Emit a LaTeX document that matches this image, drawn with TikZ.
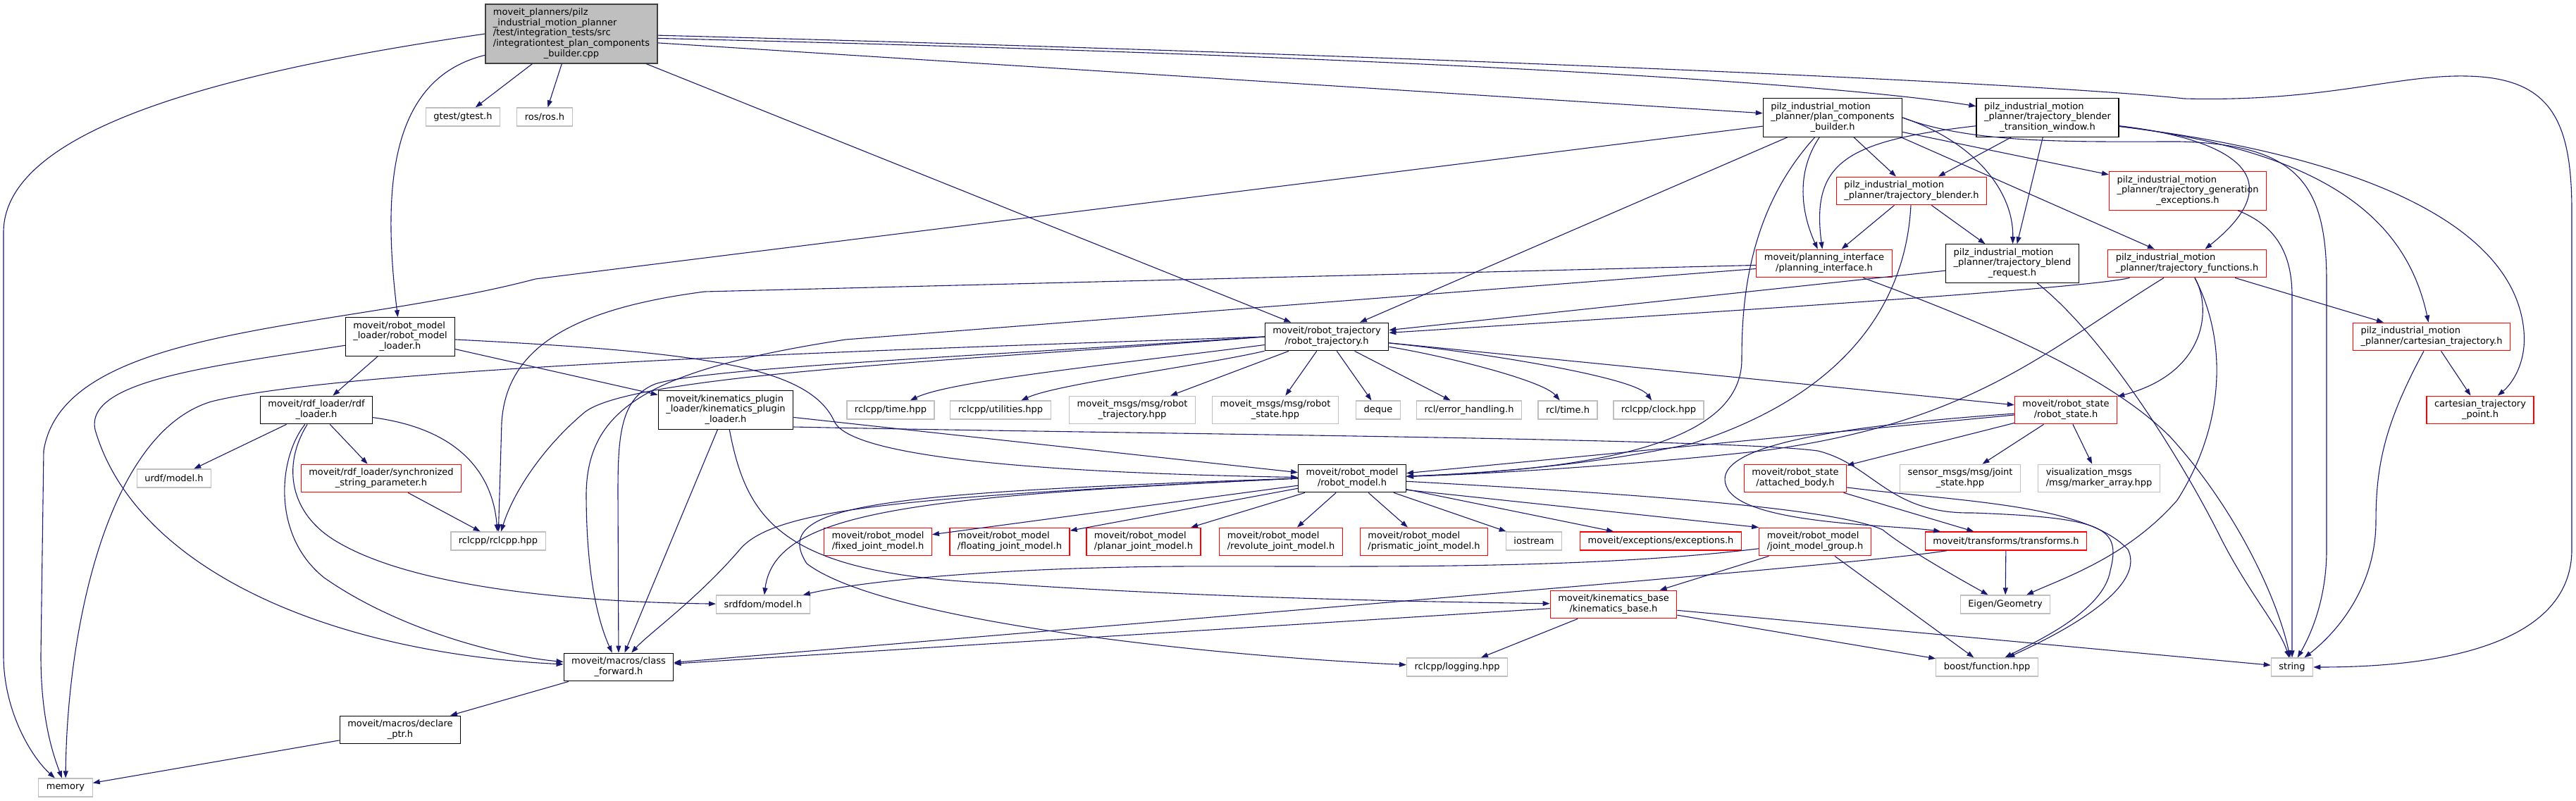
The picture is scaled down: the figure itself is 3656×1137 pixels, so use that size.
\documentclass[tikz,border=0pt]{standalone}
\usepackage{fontspec}
\setmainfont{DejaVu Sans}
\usetikzlibrary{arrows.meta}
\definecolor{edgeblue}{HTML}{191970}
\definecolor{extgray}{HTML}{BFBFBF}
\definecolor{rootline}{HTML}{404040}
\newcommand{\flab}[2]{\begin{tabular}{@{}l@{}}#1\\\multicolumn{1}{@{}c@{}}{#2}\end{tabular}}
\begin{document}
\begin{tikzpicture}[x=1pt,y=-1pt,
  box/.style={draw,fill=white,line width=1.2pt,inner xsep=11pt,inner ysep=5pt,minimum height=26pt,font=\fontsize{13}{14.8}\selectfont},
  hdr/.style={box,draw=black},
  trunc/.style={box,draw=red},
  ext/.style={box,draw=extgray},
  root/.style={box,draw=rootline,fill=extgray},
  inc/.style={draw=edgeblue,line width=1.1pt,-{Triangle[length=10pt,width=7pt]}}]
  \useasboundingbox (0,0) rectangle (3656,1137);
  \node[root] (main) at (811,48) {\flab{moveit\_planners/pilz\\\_industrial\_motion\_planner\\/test/integration\_tests/src\\/integrationtest\_plan\_components}{\_builder.cpp}};
  \node[ext] (gtest) at (657,166) {gtest/gtest.h};
  \node[ext] (ros) at (773,166) {ros/ros.h};
  \node[hdr] (pcb) at (2601,167) {\flab{pilz\_industrial\_motion\\\_planner/plan\_components}{\_builder.h}};
  \node[hdr] (tbtw) at (2906,167) {\flab{pilz\_industrial\_motion\\\_planner/trajectory\_blender}{\_transition\_window.h}};
  \node[trunc] (tblend) at (2713,271) {\flab{pilz\_industrial\_motion}{\_planner/trajectory\_blender.h}};
  \node[trunc] (tgex) at (3105,271) {\flab{pilz\_industrial\_motion\\\_planner/trajectory\_generation}{\_exceptions.h}};
  \node[trunc] (piface) at (2589,374) {\flab{moveit/planning\_interface}{/planning\_interface.h}};
  \node[hdr] (breq) at (2856,374) {\flab{pilz\_industrial\_motion\\\_planner/trajectory\_blend}{\_request.h}};
  \node[trunc] (tfunc) at (3104,374) {\flab{pilz\_industrial\_motion}{\_planner/trajectory\_functions.h}};
  \node[hdr] (rml) at (568,478) {\flab{moveit/robot\_model\\\_loader/robot\_model}{\_loader.h}};
  \node[hdr] (rtraj) at (1883,478) {\flab{moveit/robot\_trajectory}{/robot\_trajectory.h}};
  \node[trunc] (cart) at (3451,478) {\flab{pilz\_industrial\_motion}{\_planner/cartesian\_trajectory.h}};
  \node[hdr] (rdfl) at (449,582) {\flab{moveit/rdf\_loader/rdf}{\_loader.h}};
  \node[hdr] (kpl) at (1030,582) {\flab{moveit/kinematics\_plugin\\\_loader/kinematics\_plugin}{\_loader.h}};
  \node[ext] (rtime) at (1264,582) {rclcpp/time.hpp};
  \node[ext] (rutil) at (1420,582) {rclcpp/utilities.hpp};
  \node[ext] (mrtraj) at (1607,582) {\flab{moveit\_msgs/msg/robot}{\_trajectory.hpp}};
  \node[ext] (mrstate) at (1810,582) {\flab{moveit\_msgs/msg/robot}{\_state.hpp}};
  \node[ext] (deque) at (1956,582) {deque};
  \node[ext] (rclerr) at (2085,582) {rcl/error\_handling.h};
  \node[ext] (rcltime) at (2225,582) {rcl/time.h};
  \node[ext] (rclock) at (2354,582) {rclcpp/clock.hpp};
  \node[trunc] (rstate) at (2932,582) {\flab{moveit/robot\_state}{/robot\_state.h}};
  \node[trunc] (cartpt) at (3520,582) {\flab{cartesian\_trajectory}{\_point.h}};
  \node[ext] (urdf) at (247,679) {urdf/model.h};
  \node[trunc] (ssp) at (541,679) {\flab{moveit/rdf\_loader/synchronized}{\_string\_parameter.h}};
  \node[hdr] (rmodel) at (1919,679) {\flab{moveit/robot\_model}{/robot\_model.h}};
  \node[trunc] (abody) at (2548,679) {\flab{moveit/robot\_state}{/attached\_body.h}};
  \node[ext] (jstate) at (2782,679) {\flab{sensor\_msgs/msg/joint}{\_state.hpp}};
  \node[ext] (marker) at (2979,679) {\flab{visualization\_msgs}{/msg/marker\_array.hpp}};
  \node[ext] (rclcpp) at (707,768) {rclcpp/rclcpp.hpp};
  \node[trunc] (fixed) at (1246,769) {\flab{moveit/robot\_model}{/fixed\_joint\_model.h}};
  \node[trunc] (floating) at (1433,769) {\flab{moveit/robot\_model}{/floating\_joint\_model.h}};
  \node[trunc] (planar) at (1623,769) {\flab{moveit/robot\_model}{/planar\_joint\_model.h}};
  \node[trunc] (revolute) at (1818,769) {\flab{moveit/robot\_model}{/revolute\_joint\_model.h}};
  \node[trunc] (prismatic) at (2021,769) {\flab{moveit/robot\_model}{/prismatic\_joint\_model.h}};
  \node[ext] (iostream) at (2177,768) {iostream};
  \node[trunc] (exc) at (2357,768) {moveit/exceptions/exceptions.h};
  \node[trunc] (jmg) at (2576,769) {\flab{moveit/robot\_model}{/joint\_model\_group.h}};
  \node[trunc] (transf) at (2847,768) {moveit/transforms/transforms.h};
  \node[ext] (srdf) at (1083,858) {srdfdom/model.h};
  \node[trunc] (kbase) at (2290,858) {\flab{moveit/kinematics\_base}{/kinematics\_base.h}};
  \node[ext] (eigen) at (2846,858) {Eigen/Geometry};
  \node[hdr] (cfwd) at (878,947) {\flab{moveit/macros/class}{\_forward.h}};
  \node[ext] (logging) at (2068,947) {rclcpp/logging.hpp};
  \node[ext] (boostf) at (2820,947) {boost/function.hpp};
  \node[ext] (strg) at (3253,947) {string};
  \node[hdr] (dptr) at (568,1036) {\flab{moveit/macros/declare}{\_ptr.h}};
  \node[ext] (memory) at (93,1118) {memory};

  \draw[inc] (main.west) .. controls (330,100) and (5,180) .. (5,330) -- (5,930) .. controls (5,1010) and (45,1075) .. (memory);
  \draw[inc] (main) -- (gtest);
  \draw[inc] (main) -- (ros);
  \draw[inc] (main) .. controls (560,110) and (540,250) .. (rml);
  \draw[inc] (main.-6) -- (pcb);
  \draw[inc] (main.-3) .. controls (2000,80) and (2600,118) .. (tbtw);
  \draw[inc] (main.-1) .. controls (2000,78) and (2900,118) .. (3100,140) .. controls (3300,145) and (3400,106) .. (3500,108) .. controls (3620,110) and (3650,170) .. (3650,300) -- (3650,780) .. controls (3650,900) and (3500,947) .. (strg);
  \draw[inc] (main) -- (rtraj);

  \draw[inc] (pcb) -- (760,396) .. controls (480,470) and (90,460) .. (62,640) -- (58,930) .. controls (58,1020) and (75,1070) .. (memory);
  \draw[inc] (pcb) -- (rtraj);
  \draw[inc] (pcb) .. controls (2480,300) and (2472,430) .. (2472,510) .. controls (2472,620) and (2300,665) .. (rmodel);
  \draw[inc] (pcb) .. controls (2545,250) and (2560,310) .. (piface);
  \draw[inc] (pcb) -- (tblend);
  \draw[inc] (pcb.east) .. controls (2800,200) and (2858,270) .. (breq);
  \draw[inc] (pcb) -- (tgex);
  \draw[inc] (pcb.-16) -- (tfunc);
  \draw[inc] (pcb.east) .. controls (2800,205) and (2950,201) .. (3093,201) .. controls (3260,205) and (3302,260) .. (3302,400) -- (3302,780) .. controls (3302,850) and (3280,900) .. (strg);

  \draw[inc] (tbtw) .. controls (2620,200) and (2570,230) .. (piface);
  \draw[inc] (tbtw) -- (tblend);
  \draw[inc] (tbtw) -- (breq);
  \draw[inc] (tbtw) .. controls (3150,195) and (3265,245) .. (tfunc);
  \draw[inc] (tbtw) .. controls (3300,215) and (3415,310) .. (cart);
  \draw[inc] (tbtw) .. controls (3380,225) and (3570,330) .. (3582,470) .. controls (3586,515) and (3565,545) .. (cartpt);

  \draw[inc] (tblend) -- (piface);
  \draw[inc] (tblend) -- (breq);
  \draw[inc] (tblend) .. controls (2705,430) and (2620,560) .. (2400,630) .. controls (2250,662) and (2100,672) .. (rmodel);

  \draw[inc] (piface) -- (1000,414) .. controls (800,440) and (718,500) .. (712,600) -- (rclcpp);
  \draw[inc] (piface) -- (1200,482) .. controls (920,525) and (834,580) .. (832,700) .. controls (832,820) and (850,885) .. (cfwd);
  \draw[inc] (piface) .. controls (2850,470) and (3000,540) .. (3080,620) .. controls (3180,730) and (3235,860) .. (strg);

  \draw[inc] (breq) -- (rtraj);
  \draw[inc] (breq) .. controls (2990,480) and (3100,660) .. (3150,760) .. controls (3190,840) and (3235,890) .. (strg);

  \draw[inc] (tfunc) -- (cart);
  \draw[inc] (tfunc) .. controls (2960,410) and (2400,445) .. (rtraj);
  \draw[inc] (tfunc) .. controls (2900,500) and (2800,600) .. (2500,640) .. controls (2300,662) and (2100,673) .. (rmodel);
  \draw[inc] (tfunc) .. controls (3140,440) and (3130,530) .. (rstate);
  \draw[inc] (tfunc) .. controls (3160,480) and (3160,600) .. (3090,710) .. controls (3020,790) and (2930,820) .. (eigen);

  \draw[inc] (tgex) .. controls (3230,320) and (3253,360) .. (3253,420) -- (strg);
  \draw[inc] (cart) -- (cartpt);
  \draw[inc] (cart) .. controls (3385,600) and (3372,660) .. (3372,740) .. controls (3372,830) and (3320,895) .. (strg);

  \draw[inc] (rml) -- (rdfl);
  \draw[inc] (rml) -- (kpl);
  \draw[inc] (rml) .. controls (300,520) and (120,540) .. (135,610) .. controls (190,800) and (450,925) .. (cfwd);
  \draw[inc] (rml) .. controls (1000,500) and (1150,520) .. (1185,600) .. controls (1220,660) and (1600,673) .. (rmodel);

  \draw[inc] (rdfl) -- (urdf);
  \draw[inc] (rdfl) -- (ssp);
  \draw[inc] (rdfl) .. controls (660,610) and (700,680) .. (rclcpp);
  \draw[inc] (rdfl) .. controls (395,650) and (385,760) .. (460,820) .. controls (560,890) and (700,930) .. (cfwd);
  \draw[inc] (rdfl) .. controls (400,660) and (410,730) .. (480,770) .. controls (600,840) and (850,855) .. (srdf);
  \draw[inc] (ssp) -- (rclcpp);

  \draw[inc] (kpl) -- (cfwd);
  \draw[inc] (kpl) -- (rmodel);
  \draw[inc] (kpl) .. controls (1060,740) and (1110,815) .. (1415,828) .. controls (1700,848) and (2000,854) .. (kbase);
  \draw[inc] (kpl.-14) .. controls (1600,616) and (2450,622) .. (2580,640) .. controls (2660,660) and (2680,730) .. (2800,728) .. controls (2990,735) and (3010,750) .. (2995,810) .. controls (2985,870) and (2880,915) .. (boostf);

  \draw[inc] (rtraj.west) .. controls (1300,495) and (500,520) .. (300,570) .. controls (150,615) and (95,900) .. (memory);
  \draw[inc] (rtraj.west) .. controls (1400,505) and (1000,522) .. (930,545) .. controls (880,565) and (877,620) .. (877,700) -- (cfwd);
  \draw[inc] (rtraj.west) .. controls (1400,510) and (900,530) .. (830,585) .. controls (770,635) and (728,700) .. (rclcpp);
  \draw[inc] (rtraj) .. controls (1600,515) and (1350,540) .. (rtime);
  \draw[inc] (rtraj) .. controls (1700,520) and (1500,545) .. (rutil);
  \draw[inc] (rtraj) -- (mrtraj);
  \draw[inc] (rtraj) -- (mrstate);
  \draw[inc] (rtraj) -- (deque);
  \draw[inc] (rtraj) -- (rclerr);
  \draw[inc] (rtraj) .. controls (2050,505) and (2190,540) .. (rcltime);
  \draw[inc] (rtraj) .. controls (2100,500) and (2320,535) .. (rclock);
  \draw[inc] (rtraj) -- (rstate);

  \draw[inc] (rstate) -- (rmodel);
  \draw[inc] (rstate) -- (abody);
  \draw[inc] (rstate) -- (jstate);
  \draw[inc] (rstate) -- (marker);
  \draw[inc] (rstate) .. controls (2560,608) and (2430,640) .. (2450,690) .. controls (2470,745) and (2690,745) .. (transf);
  \draw[inc] (abody) -- (transf);
  \draw[inc] (abody.-10) .. controls (2780,712) and (2960,715) .. (3020,780) .. controls (3050,840) and (2900,910) .. (boostf);

  \draw[inc] (rmodel) -- (fixed);
  \draw[inc] (rmodel) -- (floating);
  \draw[inc] (rmodel) -- (planar);
  \draw[inc] (rmodel) -- (revolute);
  \draw[inc] (rmodel) -- (prismatic);
  \draw[inc] (rmodel) -- (iostream);
  \draw[inc] (rmodel) -- (exc);
  \draw[inc] (rmodel.-12) -- (jmg.north west);
  \draw[inc] (rmodel) .. controls (2300,700) and (2600,720) .. (2672,752) .. controls (2700,775) and (2760,810) .. (eigen);
  \draw[inc] (rmodel.west) .. controls (1300,705) and (1100,720) .. (1050,780) .. controls (990,850) and (920,900) .. (cfwd);
  \draw[inc] (rmodel.west) .. controls (1300,705) and (1100,725) .. (srdf);
  \draw[inc] (rmodel.west) .. controls (1250,700) and (1090,715) .. (1145,800) .. controls (1250,880) and (1700,930) .. (logging);

  \draw[inc] (jmg) -- (kbase);
  \draw[inc] (jmg) -- (boostf);
  \draw[inc] (jmg) .. controls (2200,815) and (1800,800) .. (1600,805) .. controls (1350,810) and (1200,830) .. (srdf);
  \draw[inc] (transf) -- (eigen);
  \draw[inc] (transf) .. controls (2650,800) and (2000,852) .. (cfwd);
  \draw[inc] (kbase) -- (cfwd);
  \draw[inc] (kbase) -- (logging);
  \draw[inc] (kbase) -- (boostf);
  \draw[inc] (kbase) -- (strg);
  \draw[inc] (cfwd) -- (dptr);
  \draw[inc] (dptr) -- (memory);
\end{tikzpicture}
\end{document}
